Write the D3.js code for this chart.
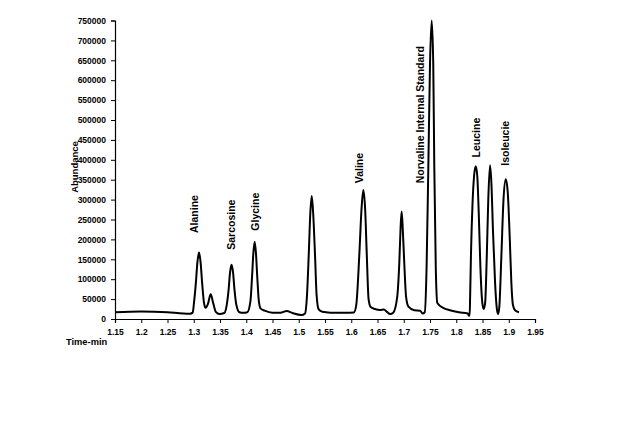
<!DOCTYPE html>
<html>
<head>
<meta charset="utf-8">
<script src="https://cdn.jsdelivr.net/npm/d3@7"></script>
<style>
  body { margin: 0; background: #fff; }
  text { font-family: "Liberation Sans", Arial, sans-serif; font-weight: bold; fill: #000; }
</style>
</head>
<body>
<script>
// chromatogram trace (time in min, abundance)
const times = [
  1.15, 1.20, 1.25, 1.28, 1.293, 1.298, 1.3004, 1.304, 1.307, 1.310, 1.313, 1.316, 1.3196, 1.3227,
  1.327, 1.3323, 1.337, 1.342, 1.349,
  1.358, 1.3628, 1.3665, 1.369, 1.372, 1.375, 1.3775, 1.3812, 1.387, 1.394,
  1.402, 1.408, 1.411, 1.4135, 1.416, 1.4185, 1.421, 1.424, 1.4275, 1.435,
  1.45, 1.465, 1.477, 1.488, 1.505, 1.512,
  1.5155, 1.519, 1.522, 1.5247, 1.5275, 1.531, 1.534, 1.538, 1.545, 1.56, 1.59, 1.605,
  1.6095, 1.6155, 1.6195, 1.623, 1.6265, 1.6295, 1.633, 1.637, 1.645, 1.655, 1.662, 1.668, 1.674,
  1.680, 1.6875, 1.6915, 1.694, 1.696, 1.698, 1.701, 1.7045, 1.709, 1.72, 1.731, 1.736, 1.740,
  1.7435, 1.7468, 1.750, 1.7532, 1.7562, 1.7582, 1.761, 1.764, 1.775, 1.788, 1.805, 1.8219,
  1.8238, 1.8255, 1.8265, 1.828, 1.831, 1.834, 1.8371, 1.840, 1.843, 1.846, 1.849, 1.852,
  1.855, 1.858, 1.861, 1.8643, 1.867, 1.870, 1.874, 1.877, 1.8796,
  1.882, 1.886, 1.890, 1.8943, 1.898, 1.902, 1.905, 1.908, 1.912, 1.9195
]
const abundance = [
  17000, 19000, 17000, 14000, 13500, 16000, 40000, 90000, 143000, 167000, 143000, 90000, 40000, 28000,
  38000, 62000, 40000, 18000, 12500,
  15000, 35000, 75000, 115000, 136000, 115000, 75000, 35000, 17000, 15500,
  17000, 45000, 105000, 165000, 194000, 165000, 105000, 45000, 26000, 21000,
  16000, 16000, 20000, 15000, 10000, 14000,
  55000, 160000, 265000, 309000, 265000, 160000, 60000, 24000, 18000, 16000, 15500, 16500,
  35000, 165000, 275000, 324000, 275000, 165000, 50000, 30000, 25000, 22600, 24000, 18000, 12500,
  16000, 55000, 140000, 230000, 270000, 230000, 140000, 55000, 31000, 22000, 21000, 14000, 17000,
  130000, 380000, 640000, 750000, 640000, 380000, 130000, 40000, 28000, 22000, 17000, 14000,
  9000, 8000, 60000, 160000, 290000, 360000, 384000, 360000, 260000, 130000, 50000, 25000,
  40000, 150000, 300000, 386000, 340000, 220000, 90000, 30000, 12500,
  30000, 160000, 300000, 351000, 320000, 200000, 90000, 35000, 22000, 17000
]

// peak labels: name, time at label, label foot (abundance)
const peakNames = ['Alanine', 'Sarcosine', 'Glycine', 'Valine', 'Norvaline Internal Standard', 'Leucine', 'Isoleucie']
const peakTimes = [1.3014, 1.370, 1.4176, 1.6157, 1.7319, 1.8367, 1.8938]
const labelFoot = [216000, 174000, 222000, 341000, 341000, 406000, 385000]

const yTicks = [0, 50000, 100000, 150000, 200000, 250000, 300000, 350000, 400000, 450000, 500000, 550000, 600000, 650000, 700000, 750000]
const xTicks = [1.15, 1.2, 1.25, 1.3, 1.35, 1.4, 1.45, 1.5, 1.55, 1.6, 1.65, 1.7, 1.75, 1.8, 1.85, 1.9, 1.95]
const xTickLabels = ['1.15', '1.2', '1.25', '1.3', '1.35', '1.4', '1.45', '1.5', '1.55', '1.6', '1.65', '1.7', '1.75', '1.8', '1.85', '1.9', '1.95']

const width = 640
const height = 431

const svg = d3.select('body')
  .append('svg')
  .attr('width', width)
  .attr('height', height)

const x = d3.scaleLinear().domain([1.15, 1.95]).range([115, 535])
const y = d3.scaleLinear().domain([0, 750000]).range([319, 20.5])

// axes
const yAxis = svg.append('g')
  .attr('transform', 'translate(115,0)')
  .call(d3.axisLeft(y).tickValues(yTicks).tickFormat(d3.format('d')).tickSize(4).tickPadding(5))
yAxis.select('.domain').attr('stroke', '#000').attr('stroke-width', 1.2)
yAxis.selectAll('text').style('font-size', '8.5px')

const xAxis = svg.append('g')
  .attr('transform', 'translate(0,319)')
  .call(d3.axisBottom(x).tickValues(xTicks).tickFormat((d, i) => xTickLabels[i]).tickSize(4).tickPadding(6))
xAxis.select('.domain').attr('stroke', '#000').attr('stroke-width', 1.2)
xAxis.selectAll('text').style('font-size', '8.5px')

svg.append('text')
  .attr('x', 66)
  .attr('y', 345)
  .style('font-size', '9.3px')
  .text('Time-min')

svg.append('text')
  .attr('transform', 'translate(78,167) rotate(-90)')
  .attr('text-anchor', 'middle')
  .style('font-size', '9.5px')
  .text('Abundance')

// trace
const pts = times.map((t, i) => [t, abundance[i]])
svg.append('path')
  .datum(pts)
  .attr('fill', 'none')
  .attr('stroke', '#000')
  .attr('stroke-width', 2)
  .attr('stroke-linejoin', 'round')
  .attr('d', d3.line().x(d => x(d[0])).y(d => y(d[1])).curve(d3.curveMonotoneX))

// peak labels
svg.selectAll('.peak')
  .data(peakNames)
  .enter()
  .append('text')
  .attr('class', 'peak')
  .attr('transform', (d, i) => `translate(${x(peakTimes[i]) + 4},${y(labelFoot[i])}) rotate(-90)`)
  .style('font-size', '10.5px')
  .text(d => d)
</script>
</body>
</html>
